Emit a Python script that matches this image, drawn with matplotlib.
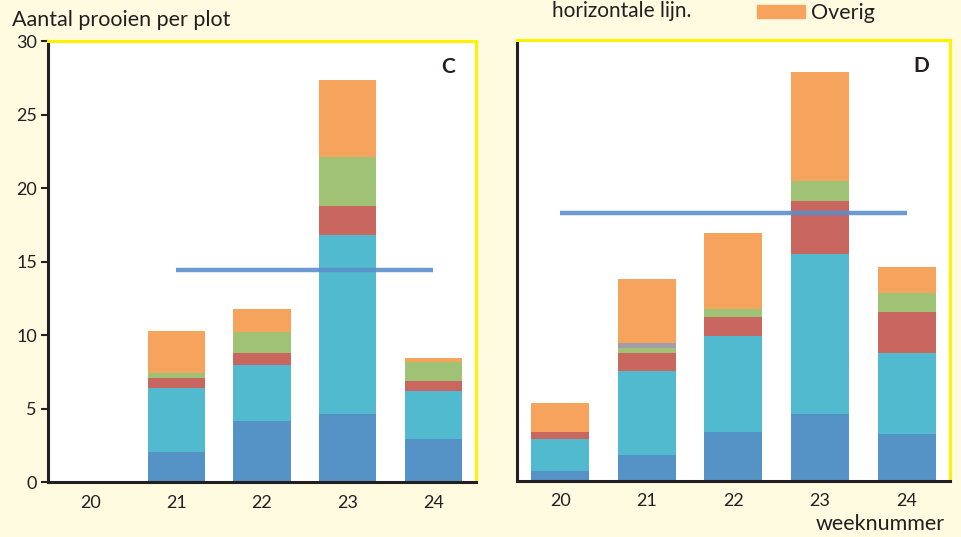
import matplotlib
matplotlib.use("Agg")
import matplotlib.pyplot as plt
import numpy as np

plt.rcParams['font.family'] = ['Lato', 'DejaVu Sans']

weeks = ["20", "21", "22", "23", "24"]

# segment heights per week, bottom to top
c_blue = [0, 2.04, 4.15, 4.6, 2.9]
c_cyan = [0, 4.33, 3.81, 12.2, 3.31]
c_red = [0, 0.68, 0.8, 2.0, 0.68]
c_green = [0, 0.38, 1.46, 3.3, 1.25]
c_grey = [0, 0, 0, 0, 0]
c_orange = [0, 2.87, 1.53, 5.25, 0.27]
c_mean = 14.45

d_blue = [0.68, 1.77, 3.33, 4.56, 3.2]
d_cyan = [2.18, 5.73, 6.53, 10.86, 5.53]
d_red = [0.47, 1.19, 1.32, 3.65, 2.79]
d_green = [0, 0.38, 0.52, 1.33, 1.25]
d_grey = [0, 0.32, 0, 0, 0]
d_orange = [1.97, 4.33, 5.17, 7.4, 1.81]
d_mean = 18.25

colors = ["#5592C6", "#52BACE", "#C9665F", "#A0C274", "#A49DA8", "#F6A45D"]
bg = "#FFFBE1"
dark = "#231F20"
yellow = "#FFF200"

fig = plt.figure(figsize=(9.62, 5.37), dpi=100, facecolor=bg)
axC = fig.add_axes([0.0499, 0.1024, 0.4449, 0.8212])
axD = fig.add_axes([0.5374, 0.1043, 0.4501, 0.8212])


def draw(ax, series, mean, line_from, letter):
    x = np.arange(len(weeks))
    bottom = np.zeros(len(weeks))
    for vals, col in zip(series, colors):
        ax.bar(x, vals, width=0.67, bottom=bottom, color=col,
               edgecolor="none", zorder=2)
        bottom += np.array(vals)
    ax.plot([line_from, 4], [mean, mean], color="#5B8FCB", lw=3.2,
            alpha=0.9, zorder=3, solid_capstyle="butt")
    ax.set_xlim(-0.5, 4.5)
    ax.set_ylim(0, 30)
    ax.set_xticks(x)
    ax.set_xticklabels(weeks, fontsize=13, color=dark)
    ax.tick_params(axis="x", length=0, pad=9)
    ax.set_facecolor("white")
    for s in ["left", "bottom"]:
        ax.spines[s].set_color(dark)
        ax.spines[s].set_linewidth(2.2)
    for s in ["top", "right"]:
        ax.spines[s].set_color(yellow)
        ax.spines[s].set_linewidth(2.2)
    ax.text(0.952, 0.94, letter, transform=ax.transAxes, fontsize=15,
            fontweight="bold", ha="right", va="center", color=dark)


draw(axC, [c_blue, c_cyan, c_red, c_green, c_grey, c_orange], c_mean, 1, "C")
draw(axD, [d_blue, d_cyan, d_red, d_green, d_grey, d_orange], d_mean, 0, "D")

axC.set_yticks([0, 5, 10, 15, 20, 25, 30])
axC.tick_params(axis="y", length=5, width=1.5, color=dark, labelsize=13,
                labelcolor=dark, pad=3)
axD.set_yticks([])

fig.text(12 / 962, 1 - 20 / 537, "Aantal prooien per plot", fontsize=15.5,
         color=dark, ha="left", va="center")
fig.text(552 / 962, 1 - 1 / 537, "horizontale lijn.", fontsize=15,
         color=dark, ha="left", va="top")
fig.patches.append(plt.Rectangle((757 / 962, 1 - 18 / 537), 48 / 962, 13 / 537,
                                 transform=fig.transFigure, color="#F6A45D"))
fig.text(811 / 962, 1 - 13 / 537, "Overig", fontsize=15.5, color=dark,
         ha="left", va="center")
fig.text(945 / 962, 1 - 524 / 537, "weeknummer", fontsize=15.5, color=dark,
         ha="right", va="center")

fig.savefig("out.png", dpi=100, facecolor=bg)
